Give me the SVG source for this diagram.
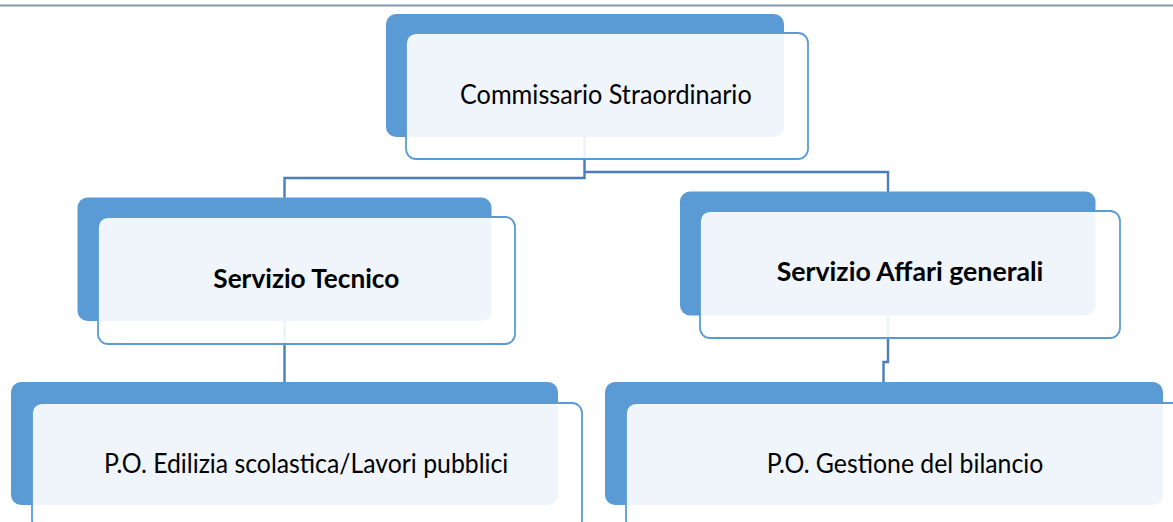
<svg xmlns="http://www.w3.org/2000/svg" width="1173" height="522" viewBox="0 0 1173 522">
  <style>
    .back { fill: #5b9bd5; }
    .front { fill: #ffffff; fill-opacity: 0.9; stroke: #5b9bd5; stroke-width: 1.8; }
    .conn { fill: none; stroke: #4a7ebb; stroke-width: 2.4; }
    .lbl { font-family: Lato, "Liberation Sans", sans-serif; font-size: 27px; fill: #000000; }
    .bold { font-weight: bold; }
  </style>
  <rect x="0" y="0" width="1173" height="522" fill="#ffffff"/>
  <line x1="0" y1="5.5" x2="1173" y2="5.5" stroke="#8497b0" stroke-width="2"/>
  <g id="connectors">
    <path class="conn" d="M584.5,120 V178 H284.5 V200"/>
    <path class="conn" d="M585,172 H888 V195"/>
    <path class="conn" d="M284.5,300 V385"/>
    <path class="conn" d="M888,300 V362 H883.5 V385"/>
  </g>
  <g id="node-commissario">
    <rect class="back" x="386" y="14" width="398" height="123" rx="10"/>
    <rect class="front" x="406" y="33" width="402" height="126" rx="10"/>
    <text class="lbl" x="460" y="104.3" textLength="291.7" lengthAdjust="spacingAndGlyphs">Commissario Straordinario</text>
  </g>
  <g id="node-tecnico">
    <rect class="back" x="77.5" y="197.5" width="414" height="123.5" rx="10"/>
    <rect class="front" x="98" y="217" width="417" height="127" rx="10"/>
    <text class="lbl bold" x="213.3" y="288.3" textLength="186" lengthAdjust="spacingAndGlyphs">Servizio Tecnico</text>
  </g>
  <g id="node-affari">
    <rect class="back" x="680" y="191.5" width="415.5" height="124" rx="10"/>
    <rect class="front" x="700" y="211" width="420" height="127" rx="10"/>
    <text class="lbl bold" x="776.7" y="281" textLength="266.7" lengthAdjust="spacingAndGlyphs">Servizio Affari generali</text>
  </g>
  <g id="node-edilizia">
    <rect class="back" x="11" y="382" width="547" height="123" rx="10"/>
    <rect class="front" x="32" y="403" width="550" height="127" rx="10"/>
    <text class="lbl" x="104" y="472.7" textLength="404.3" lengthAdjust="spacingAndGlyphs">P.O. Edilizia scolastica/Lavori pubblici</text>
  </g>
  <g id="node-bilancio">
    <rect class="back" x="605" y="382" width="558" height="123" rx="10"/>
    <rect class="front" x="626" y="403" width="561" height="127" rx="10"/>
    <text class="lbl" x="766.7" y="472.7" textLength="276.6" lengthAdjust="spacingAndGlyphs">P.O. Gestione del bilancio</text>
  </g>
</svg>
